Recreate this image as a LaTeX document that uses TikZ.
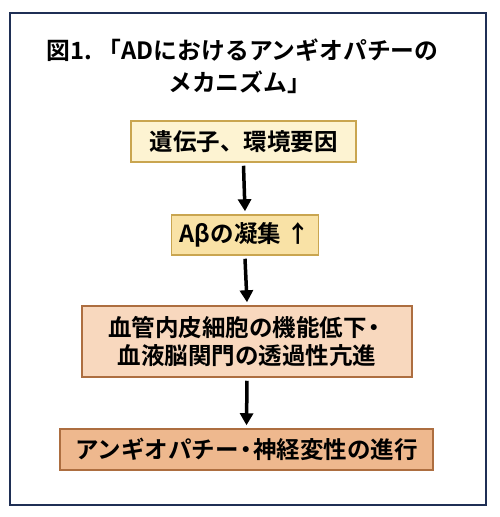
\documentclass[tikz,border=0pt]{standalone}
\usepackage{fontspec}
\setmainfont{Noto Sans CJK JP}[BoldFont={Noto Sans CJK JP Bold}]
\usetikzlibrary{arrows.meta}
\definecolor{frameblue}{HTML}{1F2F55}
\definecolor{yfillA}{HTML}{FDF3D2}
\definecolor{yfillB}{HTML}{F9E2A6}
\definecolor{ydraw}{HTML}{C9A550}
\definecolor{ofillA}{HTML}{F8D8BE}
\definecolor{ofillB}{HTML}{EEB88E}
\definecolor{odraw}{HTML}{AD6E40}
\tikzset{
  box/.style={draw, line width=1.5pt, inner sep=0pt, align=center, font=\bfseries\fontsize{23.5}{27.5}\selectfont},
  flow/.style={line width=3.5pt, -{Triangle[length=12pt,width=13pt]}},
  ttl/.style={anchor=west, inner sep=0pt, font=\bfseries\fontsize{23.8}{26}\selectfont}
}
\newcommand{\tdot}{\kern-4.5pt・\kern-4.5pt}
\begin{document}
\begin{tikzpicture}[x=1pt,y=1pt]
\useasboundingbox (0,0) rectangle (500,-517);
\fill[white] (0,0) rectangle (500,-517);
\draw[frameblue, line width=1.6pt] (10,-13) rectangle (486,-505);
\node[ttl] (t1) at (46,-50) {図1.\kern6pt「ADにおけるアンギオパチーの};
\node[ttl] (t2) at (168,-82) {メカニズム」};
\node[box, draw=ydraw, fill=yfillA, minimum width=225pt, minimum height=41pt] (b1) at (243.5,-141.5) {遺伝子、環境要因};
\node[box, draw=ydraw, fill=yfillB, minimum width=147pt, minimum height=40pt] (b2) at (245,-235) {Aβの凝集 ↑};
\node[box, draw=odraw, fill=ofillA, minimum width=330pt, minimum height=71pt] (b3) at (247,-341.5) {血管内皮細胞の機能低下\kern-4.5pt・\\血液脳関門の透過性亢進};
\node[box, draw=odraw, fill=ofillB, minimum width=373pt, minimum height=41pt] (b4) at (246.5,-449.5) {アンギオパチー\tdot 神経変性の進行};
\draw[flow] ([yshift=-3pt]b1.south) -- ([yshift=3pt]b2.north);
\draw[flow] ([yshift=-3pt]b2.south) -- ([yshift=3pt]b3.north);
\draw[flow] ([yshift=-3pt]b3.south) -- ([yshift=3pt]b4.north);
\end{tikzpicture}
\end{document}
